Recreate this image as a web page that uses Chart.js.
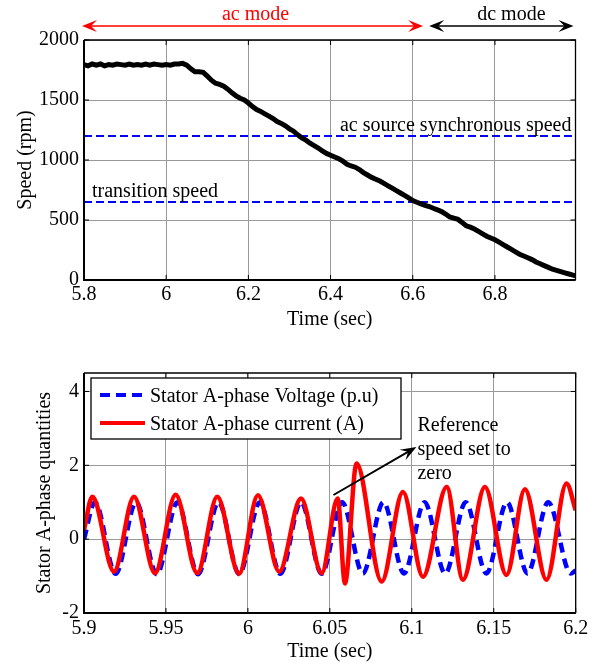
<!DOCTYPE html>
<html><head><meta charset="utf-8">
<script src="https://cdn.jsdelivr.net/npm/chart.js@4/dist/chart.umd.min.js"></script>
<style>
html,body{margin:0;padding:0;background:#fff;}
#wrap{position:relative;width:595px;height:667px;overflow:hidden;}
#c1{position:absolute;left:0;top:0;}
#c2{position:absolute;left:0;top:340px;}
</style></head><body>
<div id="wrap">
<canvas id="c1" width="595" height="340"></canvas>
<canvas id="c2" width="595" height="327"></canvas>
</div>
<script>
// ---------- DATA ----------
// Top plot: rotor speed (rpm) vs time (s)
const speedTime = [5.80,5.81,5.82,5.83,5.84,5.85,5.86,5.87,5.88,5.89,5.90,5.91,5.92,5.93,5.94,5.95,5.96,5.97,5.98,5.99,
  6.00,6.01,6.02,6.03,6.04,6.05,6.06,6.07,6.08,6.09,6.10,6.11,6.12,6.13,6.14,6.15,6.16,6.17,6.18,6.19,
  6.20,6.21,6.22,6.23,6.24,6.25,6.26,6.27,6.28,6.29,6.30,6.31,6.32,6.33,6.34,6.35,6.36,6.37,6.38,6.39,
  6.40,6.41,6.42,6.43,6.44,6.45,6.46,6.47,6.48,6.49,6.50,6.51,6.52,6.53,6.54,6.55,6.56,6.57,6.58,6.59,
  6.60,6.61,6.62,6.63,6.64,6.65,6.66,6.67,6.68,6.69,6.70,6.71,6.72,6.73,6.74,6.75,6.76,6.77,6.78,6.79,
  6.80,6.81,6.82,6.83,6.84,6.85,6.86,6.87,6.88,6.89,6.90,6.91,6.92,6.93,6.94,6.95,6.96,6.97,6.98,6.99,6.996];
const speedRpm = [1795,1785,1800,1790,1800,1785,1795,1790,1800,1795,1790,1800,1790,1795,1790,1800,1790,1800,1795,1790,
  1795,1790,1800,1800,1805,1790,1760,1735,1735,1730,1700,1665,1640,1630,1615,1590,1560,1535,1515,1500,
  1475,1445,1420,1405,1385,1365,1345,1320,1305,1285,1260,1240,1210,1185,1165,1140,1120,1100,1075,1055,
  1040,1025,1010,990,965,950,940,920,895,875,855,840,825,805,785,765,745,725,705,685,
  662,648,635,622,612,598,585,570,550,525,515,505,480,452,440,425,405,385,365,350,
  335,315,295,275,255,235,215,200,185,170,150,135,120,105,90,80,70,60,50,40,35];
const syncSpeed = 1200;        // ac source synchronous speed
const transitionSpeed = 650;   // transition speed
const topXTicks = [5.8, 6, 6.2, 6.4, 6.6, 6.8];
const topYTicks = [0, 500, 1000, 1500, 2000];

// Bottom plot: stator A-phase voltage (p.u) and current (A) vs time (s)
const voltTime = [5.9,5.9067,5.9193,5.9318,5.9444,5.9570,5.9696,5.9821,5.9947,6.0073,6.0198,6.0324,6.0450,
  6.0575,6.0701,6.0827,6.0952,6.1078,6.1204,6.1329,6.1455,6.1581,6.1706,6.1832,6.1970,6.2];
const voltValue = [0,1.0,-0.94,1.0,-0.95,1.0,-0.95,1.0,-0.95,1.0,-0.94,1.0,-0.94,
  1.0,-0.93,1.0,-0.93,1.0,-0.93,1.0,-0.93,1.0,-0.93,1.0,-0.93,-0.85];
const curTime = [5.9,5.9051,5.9183,5.9305,5.9433,5.9559,5.9691,5.9813,5.9946,6.0061,6.0191,6.0324,6.0450,
  6.0548,6.0592,6.0663,6.0816,6.0946,6.1068,6.1213,6.1312,6.1446,6.1578,6.1690,6.1822,6.1944,6.2];
const curValue = [0.25,1.15,-0.88,1.15,-0.92,1.2,-0.92,1.15,-0.94,1.19,-0.88,1.1,-0.92,
  1.1,-1.2,2.05,-1.15,1.28,-1.02,1.41,-1.1,1.41,-0.97,1.35,-1.1,1.51,0.78];
const botXTicks = [5.9, 5.95, 6, 6.05, 6.1, 6.15, 6.2];
const botYTicks = [-2, 0, 2, 4];

// ---------- STYLE ----------
const FONT = "'Liberation Serif','Times New Roman',serif";
Chart.defaults.font.family = FONT;
Chart.defaults.font.size = 20;
Chart.defaults.color = '#000';
const fmt = v => String(parseFloat(Number(v).toFixed(3)));
const GRID = '#9a9a9a';

function arrowHead(ctx, x, y, ang, len, wid, color) {
  ctx.save();
  ctx.translate(x, y); ctx.rotate(ang);
  ctx.fillStyle = color;
  ctx.beginPath();
  ctx.moveTo(0, 0);
  ctx.lineTo(-len, -wid / 2);
  ctx.lineTo(-len * 0.6, 0);
  ctx.lineTo(-len, wid / 2);
  ctx.closePath();
  ctx.fill();
  ctx.restore();
}

const framePlugin = {
  id: 'frame',
  afterDatasetsDraw(chart) {
    const {ctx, chartArea: a, scales} = chart;
    ctx.save();
    ctx.strokeStyle = '#000';
    ctx.lineWidth = 1;
    scales.x.ticks.forEach(t => {
      const p = scales.x.getPixelForValue(t.value);
      ctx.beginPath();
      ctx.moveTo(p, a.bottom); ctx.lineTo(p, a.bottom - 5);
      ctx.moveTo(p, a.top); ctx.lineTo(p, a.top + 5);
      ctx.stroke();
    });
    scales.y.ticks.forEach(t => {
      const p = scales.y.getPixelForValue(t.value);
      ctx.beginPath();
      ctx.moveTo(a.left, p); ctx.lineTo(a.left + 5, p);
      ctx.moveTo(a.right, p); ctx.lineTo(a.right - 5, p);
      ctx.stroke();
    });
    ctx.lineWidth = 1.3;
    ctx.beginPath();
    ctx.moveTo(a.left, a.top); ctx.lineTo(a.right, a.top); ctx.lineTo(a.right, a.bottom);
    ctx.stroke();
    ctx.lineWidth = 2;
    ctx.beginPath();
    ctx.moveTo(a.left, a.top); ctx.lineTo(a.left, a.bottom); ctx.lineTo(a.right, a.bottom);
    ctx.stroke();
    ctx.restore();
  }
};

const topAnnot = {
  id: 'topAnnot',
  afterDraw(chart) {
    const {ctx, chartArea: a} = chart;
    const xs = chart.scales.x, ys = chart.scales.y;
    ctx.save();
    ctx.font = '20px ' + FONT;
    ctx.textBaseline = 'alphabetic';
    // mode arrows
    const yA = 26;
    const acL = a.left - 2, acR = xs.getPixelForValue(6.625);
    const dcL = xs.getPixelForValue(6.64), dcR = a.right - 2;
    ctx.lineWidth = 1.5;
    ctx.strokeStyle = '#ff0000';
    ctx.beginPath(); ctx.moveTo(acL + 8, yA); ctx.lineTo(acR - 8, yA); ctx.stroke();
    arrowHead(ctx, acL, yA, Math.PI, 15, 12, '#ff0000');
    arrowHead(ctx, acR, yA, 0, 15, 12, '#ff0000');
    ctx.strokeStyle = '#000';
    ctx.beginPath(); ctx.moveTo(dcL + 8, yA); ctx.lineTo(dcR - 8, yA); ctx.stroke();
    arrowHead(ctx, dcL, yA, Math.PI, 15, 12, '#000');
    arrowHead(ctx, dcR, yA, 0, 15, 12, '#000');
    ctx.textAlign = 'center';
    ctx.fillStyle = '#ff0000';
    ctx.fillText('ac mode', (acL + acR) / 2 + 3, 20);
    ctx.fillStyle = '#000';
    ctx.fillText('dc mode', (dcL + dcR) / 2 + 10, 20);
    // line labels
    ctx.textAlign = 'right';
    ctx.fillText('ac source synchronous speed', a.right - 4, ys.getPixelForValue(syncSpeed) - 5);
    ctx.textAlign = 'left';
    ctx.fillText('transition speed', a.left + 8, ys.getPixelForValue(transitionSpeed) - 5);
    ctx.restore();
  }
};

const botAnnot = {
  id: 'botAnnot',
  afterDraw(chart) {
    const {ctx, chartArea: a} = chart;
    const xs = chart.scales.x;
    ctx.save();
    ctx.font = '20px ' + FONT;
    ctx.textBaseline = 'alphabetic';
    // legend box
    const bx = a.left + 7, by = a.top + 5, bw = 310, bh = 61;
    ctx.fillStyle = '#fff';
    ctx.fillRect(bx, by, bw, bh);
    ctx.strokeStyle = '#000';
    ctx.lineWidth = 1.3;
    ctx.strokeRect(bx, by, bw, bh);
    const ds = chart.data.datasets;
    const entries = [ds[1], ds[0]];
    entries.forEach((d, i) => {
      const yy = by + 17 + i * 28;
      ctx.strokeStyle = d.borderColor;
      ctx.lineWidth = 4;
      ctx.setLineDash(d.borderDash || []);
      ctx.beginPath(); ctx.moveTo(bx + 9, yy); ctx.lineTo(bx + 54, yy); ctx.stroke();
      ctx.setLineDash([]);
      ctx.fillStyle = '#000';
      ctx.textAlign = 'left';
      ctx.fillText(d.label, bx + 59, yy + 7);
    });
    // annotation arrow and text
    const x0 = xs.getPixelForValue(6.0522), y0 = a.top + 122;
    const x1 = xs.getPixelForValue(6.1028), y1 = a.top + 74;
    ctx.strokeStyle = '#000';
    ctx.lineWidth = 2;
    ctx.beginPath(); ctx.moveTo(x0, y0); ctx.lineTo(x1 - 8, y1 + 4.6); ctx.stroke();
    arrowHead(ctx, x1, y1, Math.atan2(y1 - y0, x1 - x0), 16, 12, '#000');
    ctx.fillStyle = '#000';
    ctx.textAlign = 'left';
    const tx = x1 + 1;
    ctx.fillText('Reference', tx, a.top + 58);
    ctx.fillText('speed set to', tx, a.top + 82);
    ctx.fillText('zero', tx, a.top + 106);
    ctx.restore();
  }
};

// ---------- TOP CHART ----------
new Chart(document.getElementById('c1'), {
  type: 'line',
  data: {
    datasets: [
      {label: 'Speed', data: speedTime.map((t, i) => ({x: t, y: speedRpm[i]})),
       borderColor: '#000', borderWidth: 5, pointRadius: 0, tension: 0, order: 0},
      {label: 'ac source synchronous speed', data: [{x: 5.8, y: syncSpeed}, {x: 6.996, y: syncSpeed}],
       borderColor: '#0000ff', borderWidth: 2, borderDash: [8, 4], pointRadius: 0, order: 1},
      {label: 'transition speed', data: [{x: 5.8, y: transitionSpeed}, {x: 6.996, y: transitionSpeed}],
       borderColor: '#0000ff', borderWidth: 2, borderDash: [8, 4], pointRadius: 0, order: 1}
    ]
  },
  options: {
    responsive: false, animation: false, events: [],
    layout: {padding: {left: 0, right: 19.5, top: 40, bottom: 0}},
    plugins: {legend: {display: false}, tooltip: {enabled: false}},
    scales: {
      x: {type: 'linear', min: 5.8, max: 6.996,
          afterBuildTicks(s) { s.ticks = topXTicks.map(v => ({value: v})); },
          ticks: {padding: 3, callback: fmt, maxRotation: 0, autoSkip: false},
          grid: {color: GRID, drawTicks: false, lineWidth: 1}, border: {display: false},
          title: {display: true, text: 'Time (sec)', padding: {top: 0, bottom: 8}},
          afterFit(s) { s.height = 60; }},
      y: {type: 'linear', min: 0, max: 2000,
          afterBuildTicks(s) { s.ticks = topYTicks.map(v => ({value: v})); },
          ticks: {padding: 5, callback: fmt},
          grid: {color: GRID, drawTicks: false, lineWidth: 1}, border: {display: false},
          title: {display: true, text: 'Speed (rpm)', padding: {top: 14, bottom: 0}},
          afterFit(s) { s.width = 84; }}
    }
  },
  plugins: [framePlugin, topAnnot]
});

// ---------- BOTTOM CHART ----------
new Chart(document.getElementById('c2'), {
  type: 'line',
  data: {
    datasets: [
      {label: 'Stator A-phase current (A)', data: curTime.map((t, i) => ({x: t, y: curValue[i]})),
       borderColor: '#ff0000', borderWidth: 4.5, pointRadius: 0, cubicInterpolationMode: 'monotone', order: 0},
      {label: 'Stator A-phase Voltage (p.u)', data: voltTime.map((t, i) => ({x: t, y: voltValue[i]})),
       borderColor: '#0000ff', borderWidth: 4.5, borderDash: [10, 6], pointRadius: 0, cubicInterpolationMode: 'monotone', order: 1}
    ]
  },
  options: {
    responsive: false, animation: false, events: [],
    layout: {padding: {left: 0, right: 19.3, top: 33, bottom: 0}},
    plugins: {legend: {display: false}, tooltip: {enabled: false}},
    scales: {
      x: {type: 'linear', min: 5.9, max: 6.2,
          afterBuildTicks(s) { s.ticks = botXTicks.map(v => ({value: v})); },
          ticks: {padding: 4, callback: fmt, maxRotation: 0, autoSkip: false},
          grid: {color: GRID, drawTicks: false, lineWidth: 1}, border: {display: false},
          title: {display: true, text: 'Time (sec)', padding: {top: 0, bottom: 3}},
          afterFit(s) { s.height = 54; }},
      y: {type: 'linear', min: -2, max: 4.5,
          afterBuildTicks(s) { s.ticks = botYTicks.map(v => ({value: v})); },
          ticks: {padding: 5, callback: fmt},
          grid: {color: GRID, drawTicks: false, lineWidth: 1}, border: {display: false},
          title: {display: true, text: 'Stator A-phase quantities', padding: {top: 33, bottom: 0}},
          afterFit(s) { s.width = 84; }}
    }
  },
  plugins: [framePlugin, botAnnot]
});
</script>
</body></html>
